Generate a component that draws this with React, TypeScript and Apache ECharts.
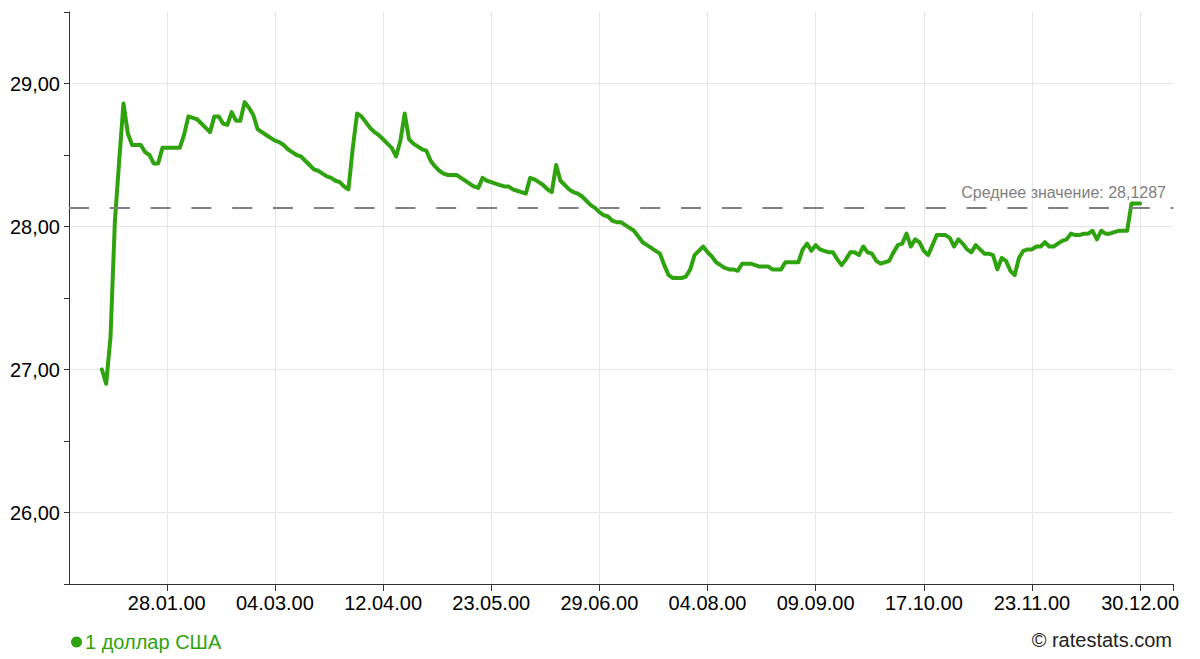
import React, { useEffect, useRef } from "react";
import * as echarts from "echarts";

// USD/RUB rate, one value per published rate (2000)
const RATES: number[] = [
  27.00, 26.90, 27.23, 28.03, 28.46, 28.86, 28.65, 28.57, 28.57, 28.57,
  28.52, 28.50, 28.44, 28.44, 28.55, 28.55, 28.55, 28.55, 28.55, 28.64,
  28.77, 28.76, 28.75, 28.72, 28.69, 28.66, 28.77, 28.77, 28.72, 28.71,
  28.80, 28.74, 28.74, 28.87, 28.83, 28.78, 28.68, 28.66, 28.64, 28.62,
  28.60, 28.59, 28.57, 28.54, 28.52, 28.50, 28.49, 28.46, 28.43, 28.40,
  28.39, 28.37, 28.35, 28.34, 28.32, 28.31, 28.28, 28.26, 28.55, 28.79,
  28.77, 28.73, 28.69, 28.66, 28.64, 28.61, 28.58, 28.55, 28.49, 28.60,
  28.79, 28.61, 28.58, 28.56, 28.54, 28.53, 28.46, 28.42, 28.39, 28.37,
  28.36, 28.36, 28.36, 28.34, 28.32, 28.30, 28.28, 28.27, 28.34, 28.32,
  28.31, 28.30, 28.29, 28.28, 28.28, 28.26, 28.25, 28.24, 28.23, 28.34,
  28.33, 28.31, 28.29, 28.26, 28.24, 28.43, 28.32, 28.29, 28.26, 28.24,
  28.23, 28.21, 28.18, 28.15, 28.13, 28.10, 28.08, 28.07, 28.04, 28.03,
  28.03, 28.01, 27.99, 27.97, 27.93, 27.89, 27.87, 27.85, 27.83, 27.81,
  27.73, 27.66, 27.64, 27.64, 27.64, 27.65, 27.70, 27.80, 27.83, 27.86,
  27.82, 27.79, 27.75, 27.73, 27.71, 27.70, 27.70, 27.69, 27.74, 27.74,
  27.74, 27.73, 27.72, 27.72, 27.72, 27.70, 27.70, 27.70, 27.75, 27.75,
  27.75, 27.75, 27.84, 27.88, 27.83, 27.87, 27.84, 27.83, 27.82, 27.82,
  27.77, 27.73, 27.77, 27.82, 27.82, 27.80, 27.86, 27.82, 27.81, 27.76,
  27.74, 27.75, 27.76, 27.82, 27.87, 27.88, 27.95, 27.86, 27.91, 27.89,
  27.83, 27.80, 27.87, 27.94, 27.94, 27.94, 27.92, 27.86, 27.91, 27.88,
  27.84, 27.82, 27.87, 27.84, 27.81, 27.81, 27.80, 27.70, 27.78, 27.76,
  27.69, 27.66, 27.78, 27.83, 27.84, 27.84, 27.86, 27.86, 27.89, 27.86,
  27.86, 27.88, 27.90, 27.91, 27.95, 27.94, 27.94, 27.95, 27.95, 27.97,
  27.91, 27.97, 27.95, 27.95, 27.96, 27.97, 27.97, 27.97, 28.16, 28.16,
  28.16,
];

// x-axis tick labels and the sample index each one marks
const TICK_LABELS: string[] = [
  "28.01.00", "04.03.00", "12.04.00", "23.05.00", "29.06.00",
  "04.08.00", "09.09.00", "17.10.00", "23.11.00", "30.12.00",
];
const TICK_INDEX: number[] = [15, 40, 65, 90, 115, 140, 165, 190, 215, 240];

const AVERAGE = 28.1287;
const SERIES_NAME = "1 доллар США";
const AVERAGE_LABEL = "Среднее значение: 28,1287";
const COPYRIGHT = "© ratestats.com";

const GREEN = "#2fa30e";
const FONT = "'Liberation Sans', Arial, sans-serif";
const X_MIN = -7.6;
const X_MAX = 247.6;

export default function App() {
  const ref = useRef<HTMLDivElement>(null);

  useEffect(() => {
    document.body.style.margin = "0";
    if (!ref.current) return;
    const chart = echarts.init(ref.current, undefined, { renderer: "svg" });

    const data = RATES.map((v, i) => [i, v]);

    chart.setOption({
      animation: false,
      textStyle: { fontFamily: FONT },
      grid: { left: 69, right: 27, top: 12, bottom: 75, containLabel: false },
      legend: {
        show: true,
        left: 66,
        top: 627,
        icon: "circle",
        itemWidth: 11,
        itemHeight: 11,
        itemGap: 10,
        textStyle: { color: GREEN, fontSize: 20, fontFamily: FONT, padding: [0, 0, 0, -2] },
        data: [SERIES_NAME],
      },
      xAxis: {
        type: "value",
        min: X_MIN,
        max: X_MAX,
        axisLine: { show: true, onZero: false, lineStyle: { color: "#333", width: 1 } },
        axisTick: {
          show: true,
          length: 7,
          customValues: [...TICK_INDEX, X_MAX],
          lineStyle: { color: "#333" },
        },
        axisLabel: {
          show: true,
          customValues: TICK_INDEX,
          margin: 9,
          color: "#000",
          fontSize: 20,
          fontFamily: FONT,
          formatter: (v: number) => {
            const k = TICK_INDEX.indexOf(Math.round(v));
            return k >= 0 ? TICK_LABELS[k] : "";
          },
        },
        splitLine: {
          show: true,
          showMaxLine: false,
          lineStyle: { color: "#e6e6e6", width: 1 },
        },
      },
      yAxis: {
        type: "value",
        min: 25.5,
        max: 29.5,
        interval: 0.5,
        axisLine: { show: true, onZero: false, lineStyle: { color: "#333", width: 1 } },
        axisTick: { show: true, length: 5, lineStyle: { color: "#333" } },
        axisLabel: {
          margin: 9,
          color: "#000",
          fontSize: 20,
          fontFamily: FONT,
          formatter: (v: number) =>
            Math.abs(v - Math.round(v)) < 1e-6 ? v.toFixed(2).replace(".", ",") : "",
        },
        splitLine: {
          show: true,
          lineStyle: { color: ["rgba(0,0,0,0)", "#e6e6e6"], width: 1 },
        },
      },
      graphic: [
        {
          type: "text",
          right: 28,
          top: 630,
          style: {
            text: COPYRIGHT,
            fill: "#222",
            fontSize: 20,
            fontFamily: FONT,
          },
        },
      ],
      series: [
        {
          name: SERIES_NAME,
          type: "line",
          data,
          showSymbol: false,
          symbol: "circle",
          color: GREEN,
          lineStyle: { color: GREEN, width: 4, join: "round", cap: "round" },
          markLine: {
            silent: true,
            symbol: "none",
            lineStyle: { color: "#7f7f7f", width: 2, type: [20, 20.8] },
            label: {
              show: true,
              position: "insideEndTop",
              distance: 7,
              color: "#808080",
              fontSize: 16,
              fontFamily: FONT,
              formatter: AVERAGE_LABEL,
            },
            data: [{ yAxis: AVERAGE }],
          },
        },
      ],
    });

    return () => chart.dispose();
  }, []);

  return <div ref={ref} style={{ width: 1200, height: 659 }} />;
}
